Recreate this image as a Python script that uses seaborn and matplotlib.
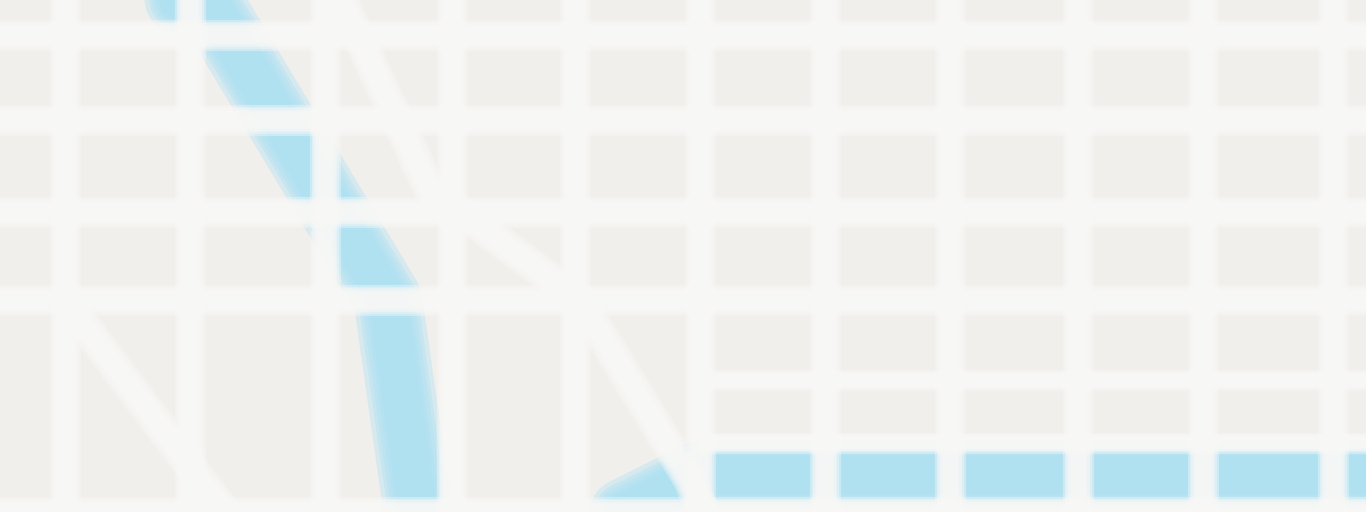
import numpy as np
import pandas as pd
import seaborn as sns
from matplotlib import pyplot as plt

# chart units: 1 unit = 100 px, y measured from the bottom edge
grid_x = [0.65, 1.90, 3.25, 4.52, 5.75, 7.00, 8.25, 9.50, 10.78, 12.03, 13.33]
grid_y = [4.77, 3.92, 3.00, 2.12, 0.0]
grid_y_right = [1.32, 0.69]
grid_y_right_start = 7.0

blue_x = [1.40, 2.15, 3.88, 4.18, 4.40, 5.30, 7.00, 14.00]
blue_y = [5.27, 5.00, 2.12, 0.00, -0.48, -0.48, 0.37, 0.37]

white_a_x = [3.33, 4.30, 5.80, 6.90, 7.10]
white_a_y = [5.30, 3.22, 2.12, 0.32, -0.18]

white_b_x = [0.65, 2.25, 2.40]
white_b_y = [2.12, 0.00, -0.18]

BG = "#f0efeb"
WHITE = "#f9f9f7"
BLUE = "#ade1f3"

sns.set_theme(style="white")

fig = plt.figure(figsize=(13.66, 5.12), dpi=100, facecolor=WHITE)
ax = fig.add_axes([0, 0, 1, 1])
ax.set_facecolor(BG)

# layered strokes give the soft, blurred edges of the original
SOFT = [1.5, 1.3, 1.15, 1.0, 0.85, 0.7]


def soft_line(x, y, color, lw, z):
    df = pd.DataFrame({"x": x, "y": y})
    for f in SOFT:
        sns.lineplot(data=df, x="x", y="y", color=color, lw=lw * f, alpha=0.4,
                     sort=False, estimator=None, ax=ax, zorder=z,
                     solid_capstyle="round", solid_joinstyle="round")


soft_line(blue_x, blue_y, BLUE, 33, 2)
soft_line(white_a_x, white_a_y, WHITE, 16, 4)
soft_line(white_b_x, white_b_y, WHITE, 16, 4)

for f in SOFT:
    ax.vlines(grid_x, -1, 6, color=WHITE, lw=15 * f, alpha=0.4, zorder=3)
    ax.hlines(grid_y, -1, 15, color=WHITE, lw=15 * f, alpha=0.4, zorder=3)
    ax.hlines(grid_y_right, grid_y_right_start, 15, color=WHITE, lw=10 * f,
              alpha=0.4, zorder=3)

ax.set_xlim(0, 13.66)
ax.set_ylim(0, 5.12)
ax.set_xticks([])
ax.set_yticks([])
ax.set_xlabel("")
ax.set_ylabel("")
for s in ax.spines.values():
    s.set_visible(False)

fig.savefig("out.png", dpi=100, facecolor=WHITE)
